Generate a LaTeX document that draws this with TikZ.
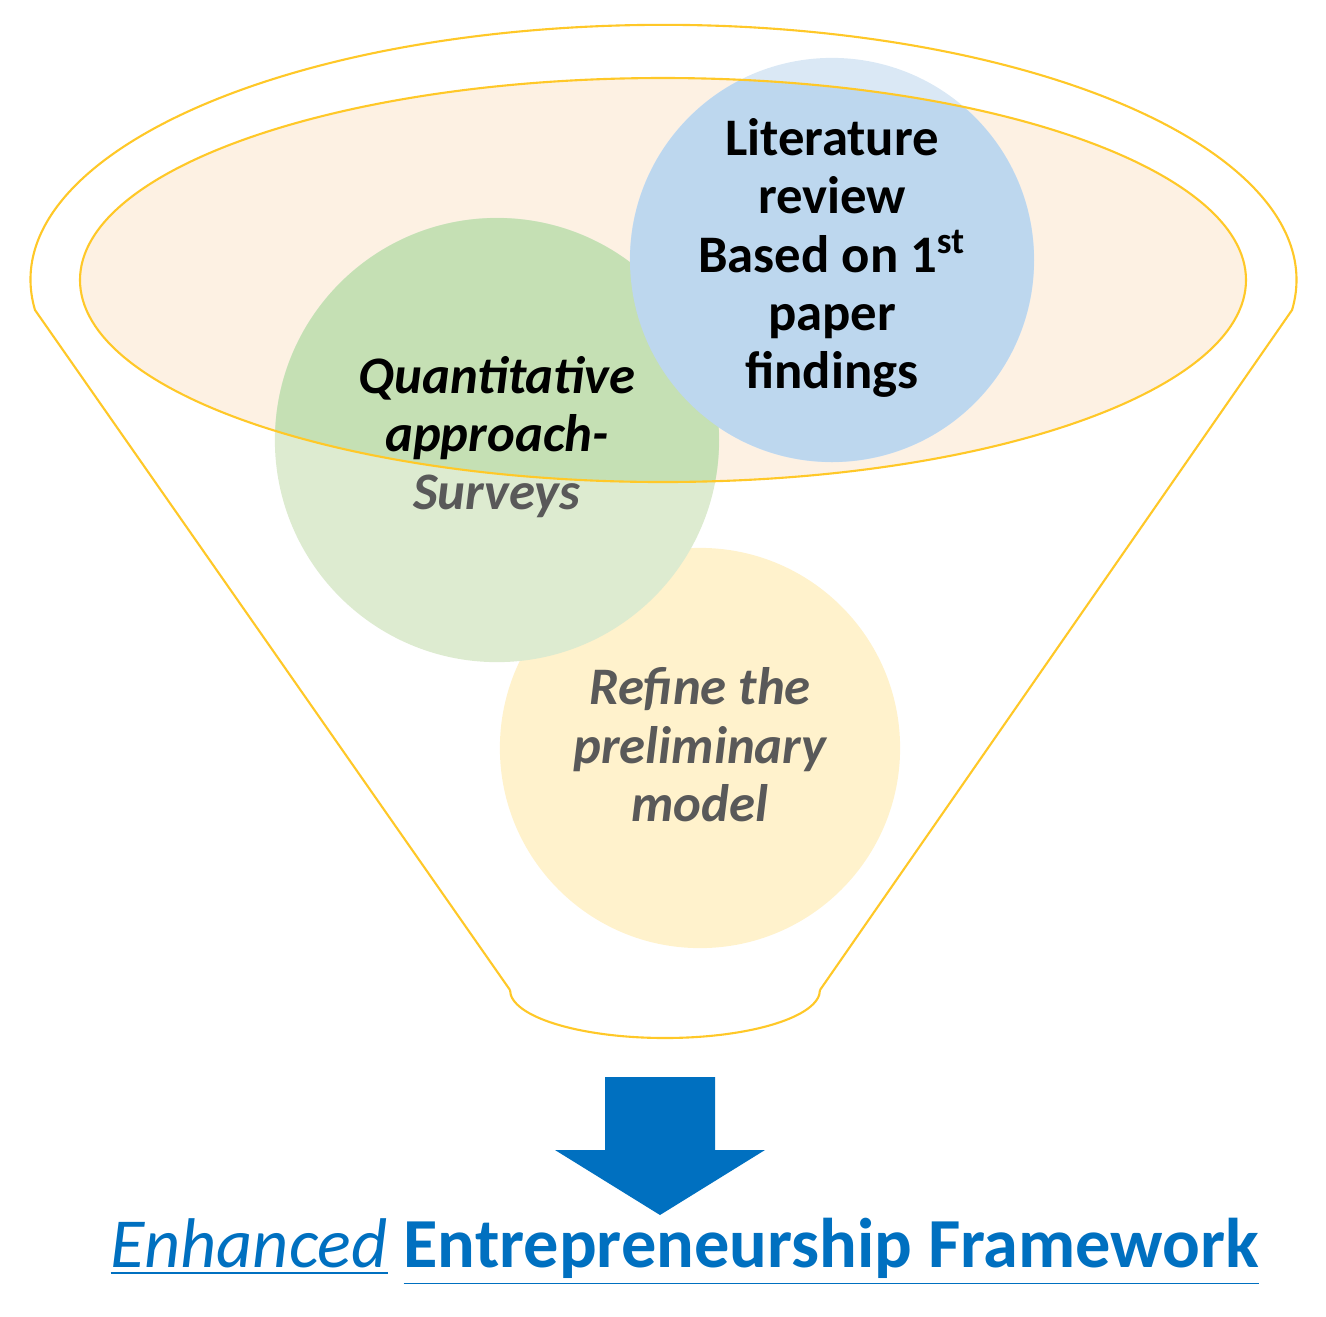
\documentclass[tikz,border=0pt]{standalone}
\usepackage{fontspec}
\setmainfont{Carlito}
\usepackage{xcolor}
\usepackage{tikz}
\usetikzlibrary{arrows.meta, shapes}
\definecolor{funnelline}{RGB}{255, 200, 40}
\definecolor{funnelfill}{RGB}{253, 241, 227}
\definecolor{litblue}{RGB}{189, 215, 238}
\definecolor{litbluelight}{RGB}{218, 232, 245}
\definecolor{quantgreen}{RGB}{197, 224, 180}
\definecolor{quantgreenlight}{RGB}{221, 235, 208}
\definecolor{refineyellow}{RGB}{255, 242, 204}
\definecolor{arrowblue}{RGB}{0, 112, 192}
\definecolor{softgray}{RGB}{89, 89, 89}
\newcommand{\ulthick}[1]{\underline{#1}}

\begin{document}
\begin{tikzpicture}[x=0.01cm, y=-0.01cm,
    bubble/.style={circle, draw=none, align=center, font=\fontsize{15}{17.6}\selectfont\bfseries}]
        \useasboundingbox (0, 0) rectangle (1326, 1317);

        % Trichter
        \draw[funnelline, line width=0.6pt] (510, 990) -- (35, 310)
            arc[start angle=173.2, end angle=366.8, x radius=633, y radius=255] -- (820, 990);
        \draw[funnelline, line width=0.6pt] (510, 990) arc[start angle=180, end angle=0, x radius=155, y radius=48];

        % innere Ellipse (Fläche)
        \fill[funnelfill] (663, 280) ellipse [x radius=583, y radius=202];

        % Kreise
        \node[bubble, fill=refineyellow, minimum size=4cm] (refine) at (700, 748) {};
        \node[bubble, fill=quantgreenlight, minimum size=4.44cm] (quant) at (497, 440) {};
        \node[bubble, fill=litbluelight, minimum size=4.04cm] (lit) at (832, 260) {};
        \begin{scope}
            \clip (663, 280) ellipse [x radius=583, y radius=202];
            \fill[quantgreen] (quant.center) circle [radius=222];
            \fill[litblue] (lit.center) circle [radius=202];
        \end{scope}

        % innere Ellipse (Rand)
        \draw[funnelline, line width=0.6pt] (663, 280) ellipse [x radius=583, y radius=202];

        % Texte
        \node[bubble] (quanttext) at (497, 437) {\itshape Quantitative\\[-1pt]\itshape approach-\\[-1pt]{\color{softgray}\itshape Surveys}};
        \node[bubble, text=softgray] (refinetext) at (700, 745) {\itshape Refine the\\[-1pt]\itshape preliminary\\[-1pt]\itshape model};
        \node[bubble] (littext) at (832, 258) {Literature\\[-1pt]review\\[-1pt]Based on 1\textsuperscript{st}\\[-1pt]paper\\[-1pt]findings};

        % Pfeil
        \fill[arrowblue] (605, 1077) -- (715, 1077) -- (715, 1150) -- (765, 1150) -- (660, 1215)
            -- (555, 1150) -- (605, 1150) -- cycle;

        % Ergebnis
        \node[text=arrowblue, font=\fontsize{20}{24}\selectfont] (result) at (685, 1252)
            {\ulthick{\itshape Enhanced}\ \ulthick{\bfseries Entrepreneurship Framework}};
\end{tikzpicture}
\end{document}
